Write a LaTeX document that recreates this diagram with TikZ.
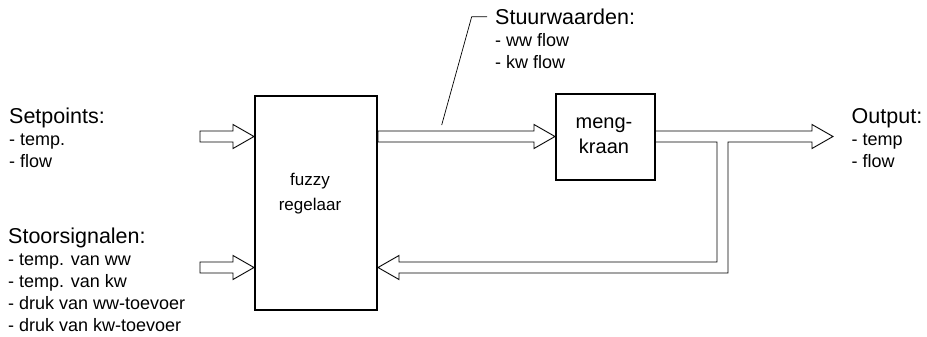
\documentclass[tikz,border=0pt]{standalone}
\usepackage{fontspec}
\setmainfont{Liberation Sans}
\usetikzlibrary{calc}

% heading size for the label blocks
\newcommand\hdr[1]{{\fontsize{21.5}{22}\selectfont #1}}

% hollow block arrow from tail #1 to tip #2
\newcommand\hollowarrow[2]{%
  \draw[harrow]
    ($(#1)!5.5pt!90:(#2)$)
    -- ($($(#2)!21pt!(#1)$)!5.5pt!90:(#2)$)
    -- ($($(#2)!21pt!(#1)$)!12pt!90:(#2)$)
    -- (#2)
    -- ($($(#2)!21pt!(#1)$)!12pt!-90:(#2)$)
    -- ($($(#2)!21pt!(#1)$)!5.5pt!-90:(#2)$)
    -- ($(#1)!5.5pt!-90:(#2)$) -- cycle;}

\begin{document}
\begin{tikzpicture}[x=1pt,y=-1pt,
  box/.style={draw=black,line width=2pt,fill=white,inner sep=0pt},
  harrow/.style={draw=black,line width=0.9pt,line join=miter,fill=white},
  leader/.style={draw=black,line width=0.7pt},
  % multi-line labels are placed by the baseline of their last line
  lbl/.style={inner sep=0pt,align=left,anchor=base west,
    font=\fontsize{18}{21.8}\selectfont},
  boxtext/.style={inner sep=0pt,anchor=base,font=\fontsize{#1}{25}\selectfont},
]
\useasboundingbox (0,0) rectangle (927,337);

% blocks
\node[box,minimum width=122pt,minimum height=214pt] (fuzzy) at (316,203) {};
\node[box,minimum width=99pt,minimum height=86pt] (meng) at (605.5,137) {};

\node[boxtext=17] (fz1) at (310,185) {fuzzy};
\node[boxtext=17] (fz2) at (310,210) {regelaar};
\node[boxtext=20] (mk1) at (604,128.3) {meng-};
\node[boxtext=20] (mk2) at (604,153.3) {kraan};

% label blocks
\node[lbl] (setp) at (9,167.3) {\hdr{Setpoints:}\\- temp.\\- flow};
\node[lbl] (stoor) at (8,331) {\hdr{Stoorsignalen:}\\- temp. van ww\\- temp. van kw\\- druk van ww-toevoer\\- druk van kw-toevoer};
\node[lbl] (stuur) at (495,68.3) {\hdr{Stuurwaarden:}\\- ww flow\\- kw flow};
\node[lbl] (outp) at (851.5,167.3) {\hdr{Output:}\\- temp\\- flow};

% arrow ends
\coordinate (spin) at (200,136.5);
\coordinate (sttin) at (200,267.5);
\coordinate (sptip) at (fuzzy.west |- spin);
\coordinate (sttip) at (fuzzy.west |- sttin);
\coordinate (ctrlout) at (fuzzy.east |- spin);
\coordinate (ctrltip) at (meng.west |- spin);

\hollowarrow{spin}{sptip}
\hollowarrow{sttin}{sttip}
\hollowarrow{ctrlout}{ctrltip}

% output arrow with feedback branch back to the controller
\coordinate (outtip) at (833,136.5);
\coordinate (split) at (722.5,136.5);
\coordinate (fbcorner) at (722.5,267.5);
\coordinate (fbtip) at (fuzzy.east |- fbcorner);
\draw[harrow]
  ($(meng.east |- split)+(0,-5.5)$)
  -- ($(outtip)+(-21,-5.5)$) -- ($(outtip)+(-21,-12)$) -- (outtip)
  -- ($(outtip)+(-21,12)$) -- ($(outtip)+(-21,5.5)$)
  -- ($(split)+(5.5,5.5)$) -- ($(fbcorner)+(5.5,5.5)$)
  -- ($(fbtip)+(21,5.5)$) -- ($(fbtip)+(21,12)$) -- (fbtip)
  -- ($(fbtip)+(21,-12)$) -- ($(fbtip)+(21,-5.5)$)
  -- ($(fbcorner)+(-5.5,-5.5)$) -- ($(split)+(-5.5,5.5)$)
  -- ($(meng.east |- split)+(0,5.5)$);

% leader from the control signals to their label
\coordinate (leadfoot) at (441.7,125);
\coordinate (leadknee) at (471.7,16.7);
\coordinate (leadend) at (487,16.7);
\draw[leader] (leadfoot) -- (leadknee) -- (leadend);
\end{tikzpicture}
\end{document}
